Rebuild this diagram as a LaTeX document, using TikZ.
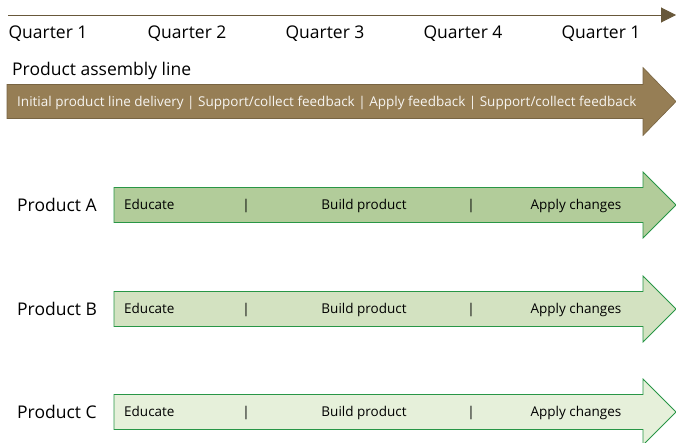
\documentclass[tikz,border=0pt]{standalone}
\usepackage{fontspec}
\setmainfont{Open Sans}
\usetikzlibrary{arrows.meta}
\definecolor{tlbrown}{RGB}{104,88,58}
\definecolor{brownfill}{RGB}{150,126,85}
\definecolor{brownline}{RGB}{120,100,66}
\definecolor{greenline}{RGB}{40,150,70}
\definecolor{fillA}{RGB}{178,204,154}
\definecolor{fillB}{RGB}{211,226,193}
\definecolor{fillC}{RGB}{230,240,218}
\tikzset{
  qlabel/.style={font=\fontsize{17.5}{20}\selectfont, inner sep=0pt, anchor=base},
  plabel/.style={font=\fontsize{17.5}{20}\selectfont, inner sep=0pt},
  intext/.style={font=\fontsize{13.5}{16}\selectfont, inner sep=0pt, anchor=base},
  greenarrow/.style={draw=greenline, line width=0.8pt, line join=miter},
}
\newcommand{\bigarrow}[5]{% x0, yc, half body, half head, style
  \path[#5] (#1,#2-#3) -- (643,#2-#3) -- (643,#2-#4) -- (676,#2) -- (643,#2+#4) -- (643,#2+#3) -- (#1,#2+#3) -- cycle;}
\begin{document}
\begin{tikzpicture}[x=1pt,y=-1pt]
\useasboundingbox (0,0) rectangle (676,442);
% timeline
\coordinate (tlstart) at (8,15);
\coordinate (tlend) at (676,15);
\draw[tlbrown, line width=1pt, -{Triangle[length=15pt,width=15pt]}] (tlstart) -- (tlend);
\node[qlabel] (q1) at (48,38) {Quarter 1};
\node[qlabel] (q2) at (187,38) {Quarter 2};
\node[qlabel] (q3) at (325,38) {Quarter 3};
\node[qlabel] (q4) at (463,38) {Quarter 4};
\node[qlabel] (q5) at (601,38) {Quarter 1};
% assembly line
\node[plabel, anchor=base west] (pal) at (12,75) {Product assembly line};
\bigarrow{7}{101.5}{17}{34}{fill=brownfill, draw=brownline, line width=0.6pt}
\node[intext, text=white!92!brownfill, anchor=base west] (pat) at (17,106.3) {Initial product line delivery | Support/collect feedback | Apply feedback | Support/collect feedback};
% products
\foreach \name/\yc/\fc in {A/205/fillA, B/309/fillB, C/412/fillC}{
  \bigarrow{114}{\yc}{17.5}{33}{greenarrow, fill=\fc}
  \node[plabel, anchor=base west] (prod\name) at (17,\yc+6.2) {Product \name};
  \node[intext, anchor=base west] (edu\name) at (124,\yc+4.8) {Educate};
  \node[intext] (sepa\name) at (246,\yc+4.8) {|};
  \node[intext] (build\name) at (364,\yc+4.8) {Build product};
  \node[intext] (sepb\name) at (471,\yc+4.8) {|};
  \node[intext] (apply\name) at (576,\yc+4.8) {Apply changes};
}
\end{tikzpicture}
\end{document}
